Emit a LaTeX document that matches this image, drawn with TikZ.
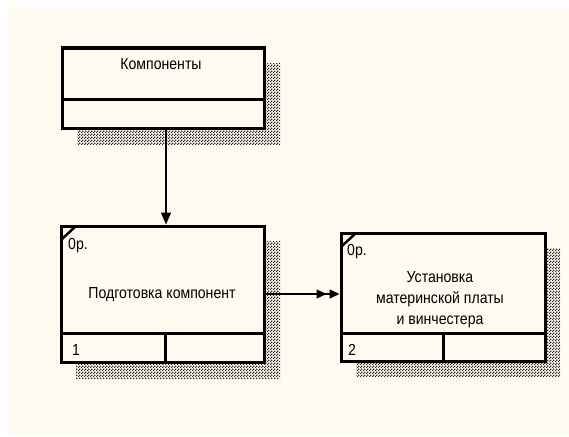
\documentclass[tikz,border=0pt]{standalone}
\usepackage{fontspec}
\setmainfont{Liberation Sans}[FakeStretch=0.88]
\usetikzlibrary{arrows.meta,patterns}
\definecolor{paper}{RGB}{255,250,240}

% fine dither used for the drop shadows
\pgfdeclarepatternformonly{grain}{\pgfqpoint{0pt}{0pt}}{\pgfqpoint{3pt}{3pt}}{\pgfqpoint{3pt}{3pt}}{
  \pgfpathrectangle{\pgfqpoint{0pt}{0pt}}{\pgfqpoint{1.6pt}{1.6pt}}
  \pgfpathrectangle{\pgfqpoint{1.5pt}{1.5pt}}{\pgfqpoint{1.6pt}{1.6pt}}
  \pgfusepath{fill}}

\begin{document}
\begin{tikzpicture}[x=1pt,y=-1pt,
  box/.style={draw,line width=3pt,fill=paper,inner sep=0pt},
  shade/.style={pattern=grain,pattern color=black!85},
  txt/.style={font=\fontsize{16}{21}\selectfont,align=center,inner sep=0pt},
  tag/.style={font=\fontsize{16}{21}\selectfont,inner sep=0pt,anchor=base west},
  flow/.style={line width=1.4pt}]
\useasboundingbox (0,0) rectangle (569,436);
\fill[paper] (8,7) rectangle (569,436);
% shadows
\fill[shade] (77,63) rectangle (280,144);
\fill[shade] (76,241) rectangle (280,378);
\fill[shade] (356,248) rectangle (560,376);
% boxes
\node[box,minimum width=202pt,minimum height=80pt] (comp) at (163,88) {};
\node[box,minimum width=203pt,minimum height=136pt] (prep) at (162.5,294) {};
\node[box,minimum width=204pt,minimum height=128pt] (inst) at (443,297) {};
\draw[line width=3pt] (62,99) -- (264,99);
\draw[line width=3pt] (61,333) -- (264,333) (165,333) -- (165,362);
\draw[line width=3pt] (341,333) -- (545,333) (443,333) -- (443,361);
\draw[line width=2.5pt] (62,239) -- (76,226);
\draw[line width=2.5pt] (342,246) -- (356,233);
% texts
\node[txt] (compname) at (161,64) {Компоненты};
\node[txt,anchor=base] (prepname) at (162,298.5) {Подготовка компонент};
\node[txt] (instname) at (440,300) {Установка\\материнской платы\\и винчестера};
\node[tag] (prepcost) at (68,249) {0р.};
\node[tag] (instcost) at (347,255) {0р.};
\node[tag] (prepnum) at (72,355) {1};
\node[tag] (instnum) at (348,355) {2};
% arrows
\draw[flow,-{Triangle[length=12pt,width=10pt]}] ([xshift=3pt]comp.south) -- ([xshift=3pt]comp.south |- prep.north);
\draw[flow,-{Triangle[length=10pt,width=9pt,sep=3pt] Triangle[length=10pt,width=9pt]}] (prep.east) -- (prep.east -| inst.west);
\end{tikzpicture}
\end{document}
